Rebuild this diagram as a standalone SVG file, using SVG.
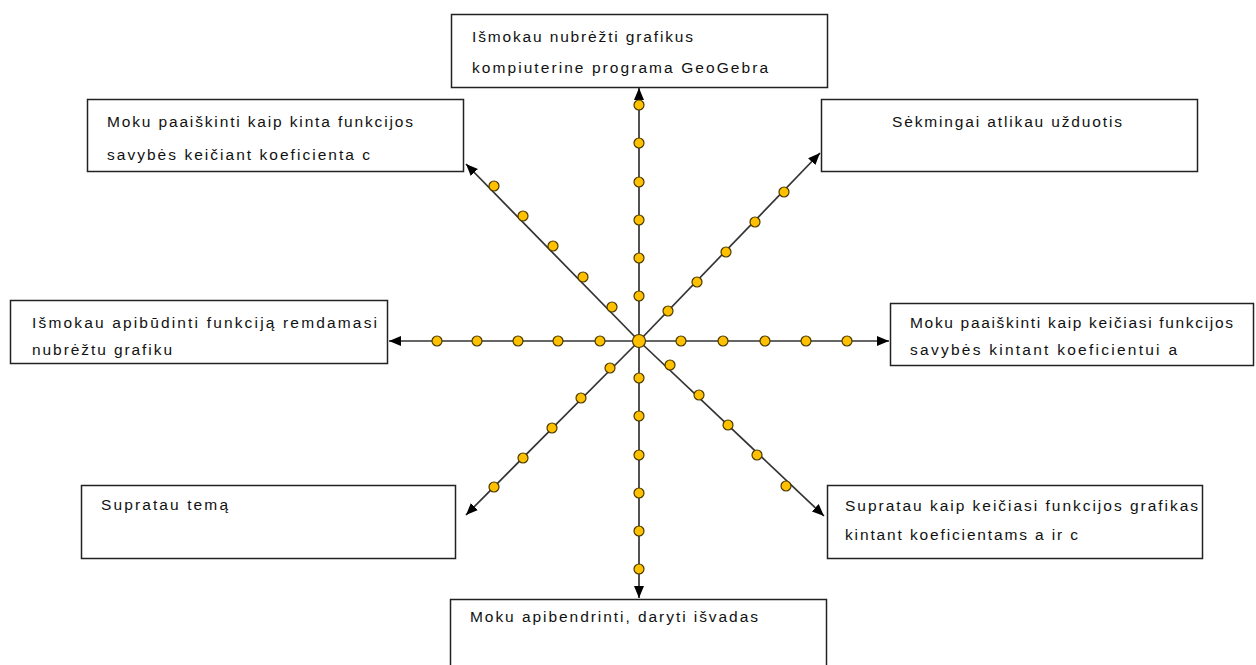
<svg xmlns="http://www.w3.org/2000/svg" width="1256" height="665" viewBox="0 0 1256 665">
<style>
.box{fill:#fff;stroke:#222;stroke-width:1.5}
.t{font-family:"Liberation Sans",Arial,sans-serif;font-size:15.5px;fill:#111}
.ln{stroke:#333;stroke-width:1.7;fill:none;marker-end:url(#ah)}
.dot{fill:#FFC000;stroke:#4a3a00;stroke-width:1.2}
</style>
<defs>
<marker id="ah" markerUnits="userSpaceOnUse" markerWidth="13" markerHeight="11" refX="12" refY="5" orient="auto">
<path d="M0,0 L12,5 L0,10 z" fill="#000"/>
</marker>
</defs>
<rect width="1256" height="665" fill="#fff"/>
<g id="connectors">
<line class="ln" x1="639" y1="341" x2="639" y2="88"/>
<line class="ln" x1="639" y1="341" x2="639" y2="598"/>
<line class="ln" x1="639" y1="341" x2="389" y2="341"/>
<line class="ln" x1="639" y1="341" x2="889" y2="341"/>
<line class="ln" x1="639" y1="341" x2="466" y2="164"/>
<line class="ln" x1="639" y1="341" x2="820" y2="153"/>
<line class="ln" x1="639" y1="341" x2="466" y2="515"/>
<line class="ln" x1="639" y1="341" x2="824" y2="516"/>
<g id="dots">
<circle class="dot" cx="639" cy="296" r="5"/><circle class="dot" cx="639" cy="258" r="5"/><circle class="dot" cx="639" cy="220" r="5"/><circle class="dot" cx="639" cy="182" r="5"/><circle class="dot" cx="639" cy="143" r="5"/><circle class="dot" cx="639" cy="105" r="5"/>
<circle class="dot" cx="639" cy="378" r="5"/><circle class="dot" cx="639" cy="416" r="5"/><circle class="dot" cx="639" cy="455" r="5"/><circle class="dot" cx="639" cy="493" r="5"/><circle class="dot" cx="639" cy="531" r="5"/><circle class="dot" cx="639" cy="569" r="5"/>
<circle class="dot" cx="600" cy="341" r="5"/><circle class="dot" cx="558" cy="341" r="5"/><circle class="dot" cx="518" cy="341" r="5"/><circle class="dot" cx="477" cy="341" r="5"/><circle class="dot" cx="437" cy="341" r="5"/>
<circle class="dot" cx="681" cy="341" r="5"/><circle class="dot" cx="723" cy="341" r="5"/><circle class="dot" cx="765" cy="341" r="5"/><circle class="dot" cx="806" cy="341" r="5"/><circle class="dot" cx="847" cy="341" r="5"/>
<circle class="dot" cx="612" cy="307" r="5"/><circle class="dot" cx="583" cy="277" r="5"/><circle class="dot" cx="553" cy="246" r="5"/><circle class="dot" cx="523" cy="216" r="5"/><circle class="dot" cx="494" cy="186" r="5"/>
<circle class="dot" cx="668" cy="311" r="5"/><circle class="dot" cx="697" cy="282" r="5"/><circle class="dot" cx="726" cy="252" r="5"/><circle class="dot" cx="755" cy="222" r="5"/><circle class="dot" cx="784" cy="192" r="5"/>
<circle class="dot" cx="610" cy="368" r="5"/><circle class="dot" cx="581" cy="398" r="5"/><circle class="dot" cx="552" cy="428" r="5"/><circle class="dot" cx="523" cy="458" r="5"/><circle class="dot" cx="494" cy="487" r="5"/>
<circle class="dot" cx="670" cy="365" r="5"/><circle class="dot" cx="699" cy="395" r="5"/><circle class="dot" cx="728" cy="425" r="5"/><circle class="dot" cx="757" cy="455" r="5"/><circle class="dot" cx="786" cy="486" r="5"/>
<circle class="dot" cx="639" cy="341" r="6.5" stroke-width="2" stroke="#2a2000"/>
</g>
</g>
<g id="n-top">
<rect class="box" x="451.5" y="14.5" width="376" height="73"/>
<text class="t" x="472" y="42" textLength="221" lengthAdjust="spacing">Išmokau nubrėžti grafikus</text>
<text class="t" x="472" y="73" textLength="296" lengthAdjust="spacing">kompiuterine programa GeoGebra</text>
</g>
<g id="n-topleft">
<rect class="box" x="87.5" y="99.5" width="376" height="72"/>
<text class="t" x="107" y="127" textLength="306" lengthAdjust="spacing">Moku paaiškinti kaip kinta funkcijos</text>
<text class="t" x="107" y="160" textLength="263" lengthAdjust="spacing">savybės keičiant koeficienta c</text>
</g>
<g id="n-topright">
<rect class="box" x="821.5" y="99.5" width="376" height="72"/>
<text class="t" x="892" y="127" textLength="230" lengthAdjust="spacing">Sėkmingai atlikau užduotis</text>
</g>
<g id="n-left">
<rect class="box" x="10.5" y="300.5" width="377" height="63"/>
<text class="t" x="32" y="328" textLength="345" lengthAdjust="spacing">Išmokau apibūdinti funkciją remdamasi</text>
<text class="t" x="32" y="355" textLength="140" lengthAdjust="spacing">nubrėžtu grafiku</text>
</g>
<g id="n-right">
<rect class="box" x="890.5" y="303.5" width="363" height="62"/>
<text class="t" x="910" y="328" textLength="323" lengthAdjust="spacing">Moku paaiškinti kaip keičiasi funkcijos</text>
<text class="t" x="910" y="355" textLength="267" lengthAdjust="spacing">savybės kintant koeficientui  a</text>
</g>
<g id="n-bottomleft">
<rect class="box" x="81.5" y="485.5" width="374" height="73"/>
<text class="t" x="101" y="510" textLength="127" lengthAdjust="spacing">Supratau temą</text>
</g>
<g id="n-bottomright">
<rect class="box" x="827.5" y="485.5" width="375" height="73"/>
<text class="t" x="845" y="511" textLength="353" lengthAdjust="spacing">Supratau kaip keičiasi funkcijos grafikas</text>
<text class="t" x="845" y="540" textLength="233" lengthAdjust="spacing">kintant koeficientams a ir c</text>
</g>
<g id="n-bottom">
<rect class="box" x="450.5" y="599.5" width="376" height="80"/>
<text class="t" x="470" y="622" textLength="288" lengthAdjust="spacing">Moku apibendrinti, daryti išvadas</text>
</g>
</svg>
